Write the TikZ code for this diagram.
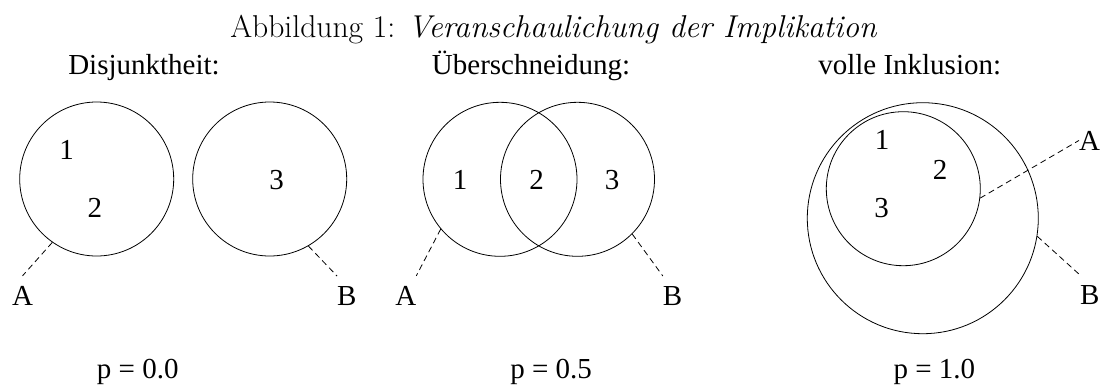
\documentclass[tikz,border=0pt]{standalone}
\usepackage{fontspec}
\newfontfamily\timesfont{Liberation Serif}
\usepackage{tikz}
\usetikzlibrary{calc}
\definecolor{INK}{HTML}{000000}

\begin{document}
\begin{tikzpicture}[x=0.75pt,y=-0.75pt]
\tikzset{circ/.style={draw=INK,line width=0.6pt,circle,inner sep=0pt,minimum size=115.5pt},
 bigcirc/.style={circ,minimum size=173.25pt},
 txt/.style={font=\timesfont\fontsize{21.75}{26}\selectfont,text=INK,inner sep=0pt},
 lbl/.style={txt,outer xsep=0pt,outer ysep=7.5pt},
 dsh/.style={draw=INK,line width=0.6pt,dash pattern=on 4.5pt off 3pt}}
\useasboundingbox (0,0) rectangle (1101,387);
\node[anchor=base west,inner sep=0pt,text=INK,font=\fontsize{23.7}{28}\selectfont] (cap) at (230,37) {Abbildung 1: \textit{Veranschaulichung der Implikation}};
\node[txt,anchor=base west] (h1) at (68,74) {Disjunktheit:};
\node[txt,anchor=base west] (h2) at (431.7,74) {Überschneidung:};
\node[txt,anchor=base west] (h3) at (818,74) {volle Inklusion:};
\node[circ] (d1) at (96.7,179) {};
\node[circ] (d2) at (269.7,179) {};
\node[circ] (u1) at (500,179.3) {};
\node[circ] (u2) at (577.5,179.3) {};
\node[bigcirc] (i2) at (922.8,218.2) {};
\node[circ] (i1) at (903.3,188.7) {};
\node[txt] (d1a) at (66.7,150) {1};
\node[txt] (d1b) at (95,208.3) {2};
\node[txt] (d2a) at (276.7,180) {3};
\node[txt] (u1a) at (460,180) {1};
\node[txt] (u1b) at (536.7,180) {2};
\node[txt] (u2a) at (612,180) {3};
\node[txt] (i1a) at (882,140) {1};
\node[txt] (i1b) at (940,170) {2};
\node[txt] (i1c) at (881.7,208.3) {3};
\node[lbl,anchor=base] (dA) at (22.5,305) {A};
\node[lbl,anchor=base] (dB) at (346.7,305) {B};
\node[lbl,anchor=base] (uA) at (405.8,305) {A};
\node[lbl,anchor=base] (uB) at (672.5,305) {B};
\node[lbl,anchor=base west] (iA) at (1079,150) {A};
\node[lbl,anchor=base west] (iB) at (1080,304) {B};
\draw[dsh] (d1.235) -- (dA.north);
\draw[dsh] (d2.300) -- (dB.north west);
\draw[dsh] (u1.220) -- (uA.north east);
\draw[dsh] (u2.315) -- (uB.north west);
\draw[dsh] (i1.353) -- (iA.west);
\draw[dsh] (i2.351) -- (iB.north west);
\node[txt,anchor=base west] (p1) at (96.7,378) {p = 0.0};
\node[txt,anchor=base west] (p2) at (510,378) {p = 0.5};
\node[txt,anchor=base west] (p3) at (893.3,378) {p = 1.0};
\end{tikzpicture}
\end{document}
